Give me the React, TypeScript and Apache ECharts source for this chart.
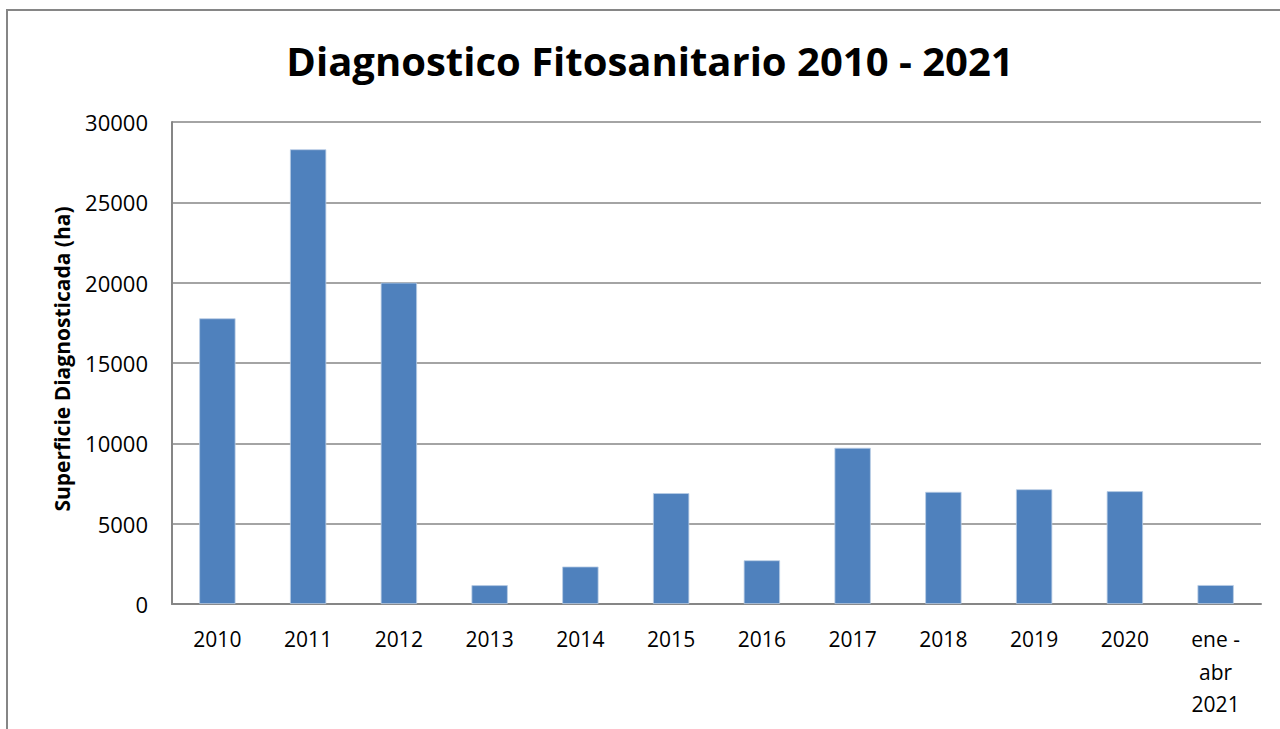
import React, { useEffect, useRef } from "react";
import * as echarts from "echarts";

const categories = ["2010", "2011", "2012", "2013", "2014", "2015", "2016", "2017", "2018", "2019", "2020", "ene -\nabr\n2021"];
const values = [17780, 28300, 20000, 1170, 2330, 6900, 2720, 9720, 6980, 7140, 7020, 1180];
const yTicks = { min: 0, max: 30000, interval: 5000 };
const titleText = "Diagnostico Fitosanitario 2010 - 2021";
const yAxisTitle = "Superficie Diagnosticada (ha)";

export default function App() {
  const ref = useRef<HTMLDivElement>(null);
  useEffect(() => {
    if (!ref.current) return;
    const chart = echarts.init(ref.current, null, { renderer: "svg" });
    const font = "'Open Sans', 'Noto Sans', sans-serif";
    chart.setOption({
      animation: false,
      backgroundColor: "#ffffff",
      title: {
        text: titleText,
        left: 645,
        textAlign: "center",
        top: 35,
        textStyle: { fontFamily: font, fontWeight: "bold", fontSize: 40, color: "#000" },
      },
      graphic: [
        {
          type: "rect",
          shape: { x: 7, y: 10, width: 1290, height: 740 },
          style: { fill: "none", stroke: "#868686", lineWidth: 2 },
          silent: true,
        },
      ],
      grid: { left: 172, top: 122, right: 19, bottom: 125, containLabel: false },
      xAxis: {
        type: "category",
        data: categories,
        axisLine: { show: true, lineStyle: { color: "#868686", width: 2 } },
        axisTick: { show: false },
        axisLabel: { fontFamily: font, fontSize: 21, color: "#000", margin: 19, lineHeight: 32.5, interval: 0 },
      },
      yAxis: {
        type: "value",
        min: yTicks.min,
        max: yTicks.max,
        interval: yTicks.interval,
        name: yAxisTitle,
        nameLocation: "middle",
        nameGap: 100,
        nameTextStyle: { fontFamily: font, fontWeight: "bold", fontSize: 21, color: "#000", padding: [0, 0, 0, 8] },
        axisLine: { show: true, lineStyle: { color: "#868686", width: 2 } },
        axisTick: { show: false },
        axisLabel: { fontFamily: font, fontSize: 22, color: "#000", margin: 24, formatter: (v: number) => String(v) },
        splitLine: { show: true, lineStyle: { color: "#868686", width: 1.5 } },
      },
      series: [
        {
          type: "bar",
          data: values,
          barWidth: "40%",
          itemStyle: { color: "#4F81BD", borderColor: "#B9CDE5", borderWidth: 0.8 },
        },
      ],
    });
    return () => chart.dispose();
  }, []);
  return <div ref={ref} style={{ position: "fixed", left: 0, top: 0, width: 1280, height: 729 }} />;
}
